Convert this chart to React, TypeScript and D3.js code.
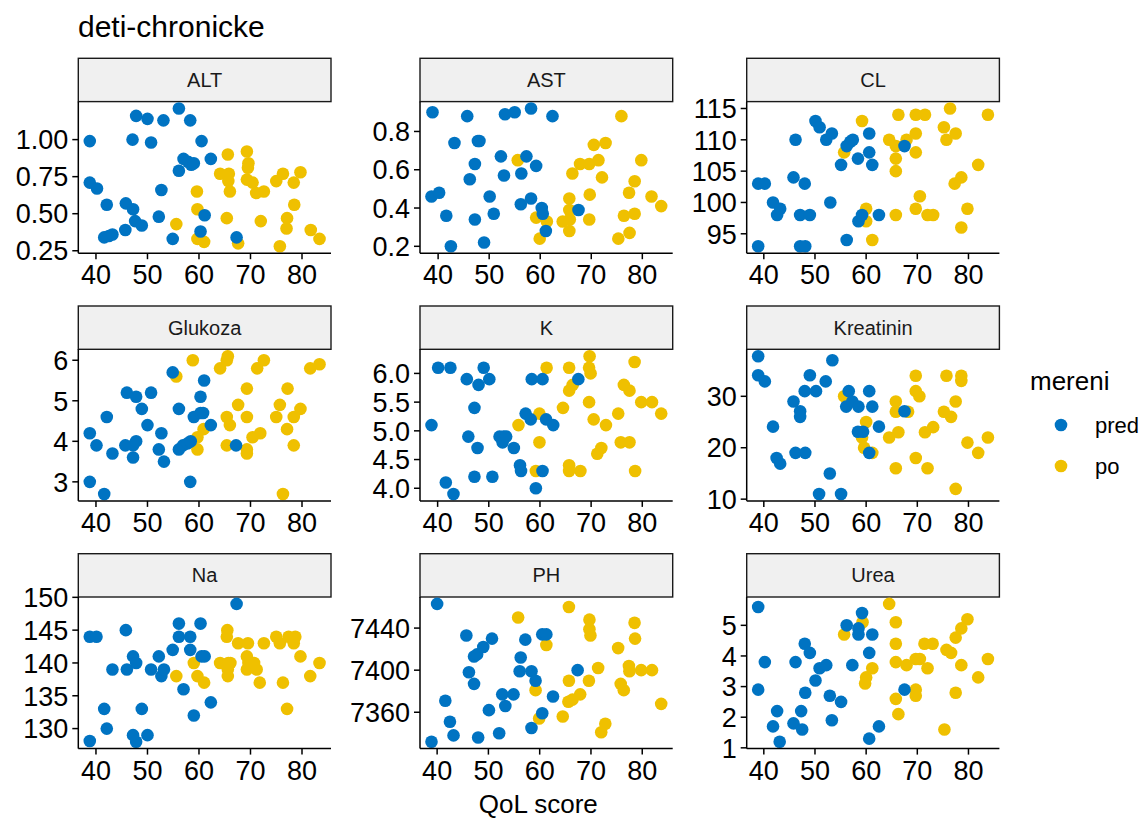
import React from "react";
import * as d3 from "d3";

type Pt = [number, number];

// QoL score (x) vs lab value (y), one pair of arrays per panel
const altPred: Pt[] = [[38.8, 0.99], [38.8, 0.71], [40.2, 0.67], [42.1, 0.56], [41.6, 0.34], [42.5, 0.35], [43.2, 0.36], [45.8, 0.57], [47.2, 0.53], [45.7, 0.39], [47.1, 1.0], [47.6, 0.45], [48.9, 0.42], [47.8, 1.16], [50.0, 1.14], [50.7, 0.98], [52.2, 0.48], [52.7, 0.66], [53.1, 1.13], [54.9, 0.33], [56.1, 1.21], [56.1, 0.79], [57.0, 0.87], [57.9, 0.85], [58.3, 1.13], [58.5, 0.83], [59.0, 0.84], [60.5, 0.99], [60.3, 0.38], [61.1, 0.49], [62.3, 0.87], [67.3, 0.34]];
const altPo: Pt[] = [[55.6, 0.43], [59.6, 0.65], [59.7, 0.53], [59.7, 0.33], [61.0, 0.31], [64.1, 0.77], [65.6, 0.9], [65.8, 0.77], [65.7, 0.72], [66.0, 0.65], [65.4, 0.47], [67.6, 0.3], [69.3, 0.92], [69.6, 0.84], [69.5, 0.81], [69.3, 0.73], [70.4, 0.71], [71.1, 0.64], [72.6, 0.65], [72.0, 0.45], [75.0, 0.72], [76.3, 0.77], [75.7, 0.28], [77.1, 0.47], [77.0, 0.4], [78.4, 0.71], [78.5, 0.56], [79.7, 0.78], [81.7, 0.39], [83.4, 0.33]];

const astPred: Pt[] = [[38.9, 0.9], [38.7, 0.46], [40.2, 0.48], [41.6, 0.36], [42.5, 0.2], [43.2, 0.74], [45.7, 0.88], [46.2, 0.55], [47.2, 0.63], [47.2, 0.34], [47.8, 0.75], [48.1, 0.75], [49.0, 0.22], [50.1, 0.46], [50.9, 0.37], [52.3, 0.67], [52.9, 0.57], [53.1, 0.89], [55.0, 0.9], [56.3, 0.58], [56.2, 0.42], [57.3, 0.67], [58.2, 0.92], [58.2, 0.45], [59.2, 0.62], [60.3, 0.4], [60.5, 0.37], [61.1, 0.28], [62.4, 0.88], [67.5, 0.39]];
const astPo: Pt[] = [[55.6, 0.65], [59.2, 0.35], [59.9, 0.24], [61.3, 0.33], [64.4, 0.33], [65.7, 0.45], [65.7, 0.39], [65.8, 0.34], [65.7, 0.28], [66.3, 0.58], [67.8, 0.63], [69.6, 0.63], [69.7, 0.47], [69.6, 0.34], [70.5, 0.73], [71.4, 0.65], [72.1, 0.56], [72.8, 0.74], [75.3, 0.24], [75.9, 0.88], [76.4, 0.36], [77.4, 0.48], [77.5, 0.27], [78.5, 0.54], [78.5, 0.37], [79.8, 0.65], [81.8, 0.46], [83.7, 0.41]];

const clPred: Pt[] = [[38.9, 103], [40.2, 103], [38.9, 93], [41.8, 100], [42.6, 98], [43.2, 99], [46.2, 110], [45.8, 104], [48.0, 103], [47.1, 98], [49.0, 98], [47.1, 93], [48.1, 93], [50.1, 113], [50.9, 112], [52.2, 110], [53.3, 111], [53.0, 100], [55.1, 106], [56.2, 94], [56.2, 109], [56.9, 109.7], [57.4, 110], [58.4, 107], [58.5, 97], [59.2, 98], [60.6, 111], [60.6, 108], [61.2, 106], [62.5, 98], [67.5, 109]];
const clPo: Pt[] = [[55.7, 108], [59.2, 113], [60.0, 99], [60.0, 97], [61.2, 94], [64.5, 110], [65.8, 109], [65.8, 107], [65.8, 105], [65.8, 98], [66.3, 114], [67.9, 110], [69.7, 114], [69.7, 111], [69.7, 108], [69.7, 99], [70.5, 101], [71.5, 114], [72.0, 98], [73.1, 98], [75.2, 112], [75.7, 110], [76.4, 115], [77.5, 111], [77.3, 103], [78.6, 104], [78.6, 96], [79.8, 99], [81.9, 106], [83.8, 114]];

const glukozaPred: Pt[] = [[38.8, 4.2], [38.8, 3.0], [40.1, 3.9], [41.6, 2.7], [42.1, 4.6], [43.2, 3.7], [45.7, 3.9], [46.0, 5.2], [47.2, 3.9], [47.2, 3.6], [47.8, 4.0], [47.8, 5.1], [48.9, 4.8], [50.0, 4.4], [50.7, 5.2], [52.2, 3.8], [52.7, 4.2], [53.2, 3.5], [54.9, 5.7], [56.1, 4.8], [56.1, 3.8], [56.9, 3.9], [57.8, 3.95], [58.4, 4.0], [58.3, 3.0], [59.0, 4.6], [60.3, 4.7], [60.3, 5.1], [60.8, 4.7], [61.0, 5.5], [62.3, 4.4], [67.2, 3.9]];
const glukozaPo: Pt[] = [[55.6, 5.6], [58.8, 6.0], [59.7, 4.1], [59.7, 3.8], [60.9, 4.3], [64.1, 5.8], [65.6, 6.1], [65.4, 6.0], [65.4, 4.6], [66.0, 4.4], [65.4, 3.9], [67.6, 4.9], [69.3, 5.3], [69.3, 4.6], [69.3, 3.8], [69.3, 3.7], [70.4, 4.1], [71.3, 5.8], [72.6, 6.0], [71.9, 4.2], [75.0, 4.6], [75.7, 4.9], [76.3, 2.7], [77.2, 5.3], [77.1, 4.3], [78.4, 3.9], [78.4, 4.6], [79.7, 4.8], [81.6, 5.8], [83.4, 5.9]];

const kPred: Pt[] = [[38.8, 5.1], [40.1, 6.1], [42.5, 6.1], [41.6, 4.1], [43.1, 3.9], [45.7, 5.9], [46.0, 4.9], [47.2, 5.4], [47.2, 4.2], [48.0, 5.8], [47.8, 4.7], [49.0, 6.1], [50.1, 5.9], [50.7, 4.2], [52.1, 4.9], [52.9, 4.9], [52.7, 4.8], [53.4, 4.9], [54.9, 4.7], [56.1, 4.4], [56.3, 4.3], [57.2, 5.3], [58.2, 5.2], [58.4, 5.9], [59.2, 4.0], [60.5, 5.9], [60.5, 4.3], [61.2, 5.2], [62.6, 5.1], [67.5, 5.9]];
const kPo: Pt[] = [[55.8, 5.1], [59.2, 4.3], [59.9, 5.3], [59.9, 4.8], [61.3, 6.1], [64.5, 5.4], [65.7, 6.1], [66.4, 5.8], [65.7, 5.7], [65.7, 4.4], [65.7, 4.3], [67.9, 4.3], [69.7, 6.3], [69.6, 6.1], [69.9, 6.0], [69.6, 5.5], [70.5, 5.2], [71.2, 4.6], [72.0, 4.7], [72.9, 5.1], [75.3, 5.3], [75.8, 4.8], [76.4, 5.8], [77.5, 4.8], [77.5, 5.7], [78.5, 6.2], [78.6, 4.3], [79.8, 5.5], [81.9, 5.5], [83.7, 5.3]];

const kreatininPred: Pt[] = [[38.9, 37.8], [38.9, 34.1], [40.2, 32.9], [41.8, 24.1], [42.5, 18.0], [43.2, 16.9], [45.8, 29.0], [46.2, 19.0], [47.1, 27.1], [47.1, 26.0], [48.0, 31.0], [48.1, 19.0], [49.0, 34.1], [50.2, 31.0], [50.8, 11.0], [52.1, 32.9], [52.9, 15.0], [53.4, 37.0], [55.1, 11.0], [56.6, 31.0], [56.1, 28.0], [57.3, 29.0], [58.5, 28.0], [58.4, 23.1], [59.4, 23.1], [60.6, 19.0], [60.6, 31.0], [61.2, 28.0], [62.5, 24.1], [67.5, 27.1]];
const kreatininPo: Pt[] = [[55.7, 30], [59.2, 22], [59.6, 20], [60.0, 25], [61.2, 19], [64.5, 22], [65.8, 29], [65.8, 27], [65.8, 16], [66.3, 23], [68.2, 27], [69.7, 34], [69.7, 31], [70.4, 30], [69.7, 18], [71.5, 23], [72.0, 16], [73.1, 24], [75.2, 27], [75.7, 34], [76.6, 26], [77.5, 29], [77.5, 12], [78.6, 34], [78.6, 33], [79.8, 21], [81.9, 19], [83.8, 22]];

const naPred: Pt[] = [[38.8, 144], [40.1, 144], [38.8, 128.1], [41.6, 133], [42.1, 130], [43.2, 139], [45.8, 145], [46.0, 139], [47.2, 141], [47.8, 140], [47.2, 129], [47.8, 128], [48.9, 133], [50.0, 129], [50.7, 139], [52.2, 141], [52.7, 138], [53.2, 139], [54.9, 142], [56.1, 146], [56.1, 144], [57.0, 136], [58.3, 144], [58.3, 142], [59.0, 132], [60.3, 146], [60.5, 141], [61.1, 141], [62.3, 134], [67.3, 149]];
const naPo: Pt[] = [[55.6, 138], [59.0, 140], [59.7, 138], [61.0, 137], [64.1, 140], [65.5, 145], [65.4, 144], [65.7, 140], [65.6, 139], [65.6, 138], [66.1, 140], [67.6, 143], [69.5, 143], [69.3, 141], [69.6, 140], [69.3, 139], [70.7, 140], [71.2, 139], [71.8, 137], [72.6, 143], [75.0, 144], [75.7, 143], [76.3, 137], [77.1, 133], [77.4, 144], [78.7, 144], [78.4, 143], [79.7, 141], [81.6, 138], [83.4, 140]];

const phPred: Pt[] = [[40.0, 7463], [38.9, 7332], [41.6, 7371], [42.5, 7351], [43.2, 7338], [45.7, 7433], [46.2, 7398], [47.2, 7387], [47.2, 7413], [47.8, 7415], [49.0, 7422], [50.7, 7430], [48.0, 7336], [50.1, 7362], [52.1, 7340], [52.7, 7377], [53.3, 7366], [54.9, 7377], [56.1, 7399], [56.3, 7412], [57.2, 7429], [58.4, 7399], [59.2, 7390], [58.4, 7345], [60.5, 7359], [60.5, 7434], [61.3, 7434], [62.6, 7375], [67.4, 7400]];
const phPo: Pt[] = [[55.8, 7450], [59.2, 7381], [59.9, 7354], [61.3, 7424], [64.5, 7356], [65.7, 7460], [65.7, 7390], [65.6, 7370], [66.4, 7372], [67.9, 7377], [69.7, 7448], [69.7, 7439], [69.9, 7433], [69.6, 7390], [71.4, 7402], [72.0, 7341], [72.8, 7349], [75.3, 7421], [75.8, 7387], [76.4, 7381], [77.4, 7404], [77.5, 7399], [78.5, 7445], [78.6, 7430], [79.8, 7400], [81.9, 7400], [83.7, 7368]];

const ureaPred: Pt[] = [[38.9, 5.6], [38.9, 2.9], [40.2, 3.8], [41.8, 1.7], [42.6, 2.2], [43.1, 1.2], [46.2, 3.8], [45.8, 1.8], [47.3, 2.2], [47.5, 1.6], [48.0, 4.4], [48.1, 2.8], [49.0, 4.1], [50.1, 3.2], [50.9, 3.6], [52.2, 3.7], [52.9, 2.7], [53.3, 1.9], [55.1, 2.5], [56.2, 5.0], [57.3, 3.7], [58.5, 4.9], [58.5, 4.7], [59.2, 5.4], [60.6, 4.1], [60.6, 1.3], [61.2, 4.7], [62.5, 1.7], [67.5, 2.9]];
const ureaPo: Pt[] = [[55.7, 4.7], [59.3, 5.1], [60.0, 3.3], [59.8, 3.1], [61.2, 3.6], [64.5, 5.7], [65.8, 5.1], [65.8, 4.4], [65.8, 3.8], [65.8, 2.6], [66.3, 2.1], [67.9, 3.7], [69.7, 3.9], [70.5, 3.9], [69.7, 2.9], [69.7, 2.7], [71.4, 4.4], [73.0, 4.4], [72.0, 3.6], [75.3, 1.6], [75.7, 4.2], [76.6, 4.1], [77.5, 2.8], [77.5, 4.6], [78.6, 4.9], [78.6, 3.7], [79.8, 5.2], [81.9, 3.3], [83.8, 3.9]];

const panelNames = ["ALT", "AST", "CL", "Glukoza", "K", "Kreatinin", "Na", "PH", "Urea"];
const predSets = [altPred, astPred, clPred, glukozaPred, kPred, kreatininPred, naPred, phPred, ureaPred];
const poSets = [altPo, astPo, clPo, glukozaPo, kPo, kreatininPo, naPo, phPo, ureaPo];

const yTickSets = [
  [0.25, 0.5, 0.75, 1.0],
  [0.2, 0.4, 0.6, 0.8],
  [95, 100, 105, 110, 115],
  [3, 4, 5, 6],
  [4.0, 4.5, 5.0, 5.5, 6.0],
  [10, 20, 30],
  [130, 135, 140, 145, 150],
  [7360, 7400, 7440],
  [1, 2, 3, 4, 5],
];
const yFormats = [".2f", ".1f", "d", "d", ".1f", "d", "d", "d", "d"];
const xTicks = [40, 50, 60, 70, 80];

const seriesNames = ["pred", "po"];
const seriesColors = ["#0073C2", "#EFC000"];

const W = 1141;
const H = 818;
const colLeft = [78.3, 420, 746.7];
const rowTop = [58.3, 306, 553.7];
const panelW = 252.7;
const stripH = 43.3;
const plotH = 151.6;
const font = "'Liberation Sans', Arial, Helvetica, sans-serif";

// ggplot style 5% expansion
const expand = (ext: [number, number]): [number, number] => {
  const pad = (ext[1] - ext[0]) * 0.05;
  return [ext[0] - pad, ext[1] + pad];
};

const Panel = ({ i }: { i: number }) => {
  const left = colLeft[i % 3];
  const top = rowTop[Math.floor(i / 3)];
  const plotTop = top + stripH;
  const all = [...predSets[i], ...poSets[i]];

  const x = d3
    .scaleLinear()
    .domain(expand(d3.extent(all, (d) => d[0]) as [number, number]))
    .range([0, panelW]);
  const y = d3
    .scaleLinear()
    .domain(expand(d3.extent(all, (d) => d[1]) as [number, number]))
    .range([plotH, 0]);
  const fmt = d3.format(yFormats[i]);

  return (
    <g>
      {/* strip */}
      <rect x={left} y={top} width={panelW} height={stripH} fill="#F0F0F0" stroke="#1a1a1a" strokeWidth={1.4} />
      <text x={left + panelW / 2} y={top + stripH / 2} dy="0.35em" textAnchor="middle" fontSize={20} fill="#1a1a1a">
        {panelNames[i]}
      </text>

      <g transform={`translate(${left},${plotTop})`}>
        {/* points: po first, pred on top */}
        {poSets[i].map((d, k) => (
          <circle key={"po" + k} cx={x(d[0])} cy={y(d[1])} r={6.3} fill={seriesColors[1]} />
        ))}
        {predSets[i].map((d, k) => (
          <circle key={"pr" + k} cx={x(d[0])} cy={y(d[1])} r={6.3} fill={seriesColors[0]} />
        ))}

        {/* axes */}
        <line x1={0} x2={0} y1={0} y2={plotH} stroke="#000" strokeWidth={1.5} />
        <line x1={0} x2={panelW} y1={plotH} y2={plotH} stroke="#000" strokeWidth={1.5} />
        {yTickSets[i].map((t) => (
          <g key={"y" + t} transform={`translate(0,${y(t)})`}>
            <line x1={-6} x2={0} stroke="#000" strokeWidth={1.5} />
            <text x={-10} dy="0.36em" textAnchor="end" fontSize={27} fill="#000">
              {fmt(t)}
            </text>
          </g>
        ))}
        {xTicks.map((t) => (
          <g key={"x" + t} transform={`translate(${x(t)},${plotH})`}>
            <line y1={0} y2={6} stroke="#000" strokeWidth={1.5} />
            <text y={31} textAnchor="middle" fontSize={27} fill="#000">
              {t}
            </text>
          </g>
        ))}
      </g>
    </g>
  );
};

export default function App() {
  return (
    <svg
      width={W}
      height={H}
      style={{ position: "absolute", left: 0, top: 0, display: "block", background: "#fff" }}
      fontFamily={font}
    >
      <rect width={W} height={H} fill="#fff" />
      <text x={78} y={37} fontSize={30} fill="#000">
        deti-chronicke
      </text>

      {panelNames.map((_, i) => (
        <Panel key={i} i={i} />
      ))}

      <text x={538.3} y={813} textAnchor="middle" fontSize={26} fill="#000">
        QoL score
      </text>

      {/* legend */}
      <text x={1030} y={390} fontSize={26} fill="#000">
        mereni
      </text>
      {seriesNames.map((s, k) => (
        <g key={s} transform={`translate(1061,${425 + k * 41})`}>
          <circle r={6.3} fill={seriesColors[k]} />
          <text x={34} dy="0.35em" fontSize={22} fill="#000">
            {s}
          </text>
        </g>
      ))}
    </svg>
  );
}
